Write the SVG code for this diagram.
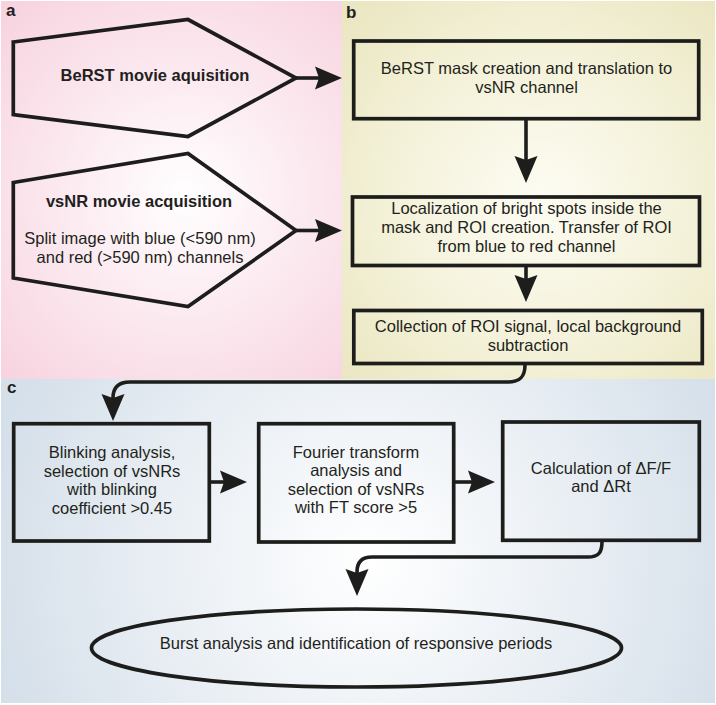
<svg xmlns="http://www.w3.org/2000/svg" width="716" height="705" viewBox="0 0 716 705">
<defs>
<radialGradient id="gA" gradientUnits="userSpaceOnUse" cx="185" cy="195" r="260">
<stop offset="0" stop-color="#ffffff"/>
<stop offset="0.55" stop-color="#fbe6ee"/>
<stop offset="1" stop-color="#f7d3df"/>
</radialGradient>
<radialGradient id="gB" gradientUnits="userSpaceOnUse" cx="540" cy="200" r="260">
<stop offset="0" stop-color="#fdfcf3"/>
<stop offset="0.55" stop-color="#f4f2da"/>
<stop offset="1" stop-color="#ebe7c3"/>
</radialGradient>
<radialGradient id="gC" gradientUnits="userSpaceOnUse" cx="370" cy="560" r="380">
<stop offset="0" stop-color="#ffffff"/>
<stop offset="0.5" stop-color="#ebf0f5"/>
<stop offset="1" stop-color="#d6e0ea"/>
</radialGradient>
<marker id="ah" markerUnits="userSpaceOnUse" markerWidth="28" markerHeight="24" refX="7" refY="12" orient="auto" overflow="visible">
<path d="M0,0.5 L27,12 L0,23.5 L4,12 Z" fill="#1d1d1b"/>
</marker>
</defs>
<style>
.shape{fill:none;stroke:#1d1d1b;stroke-width:3.7;stroke-linejoin:miter}
.conn{fill:none;stroke:#1d1d1b;stroke-width:3.6;marker-end:url(#ah)}
text{font-family:"Liberation Sans",Arial,sans-serif;font-size:16.5px;fill:#231f20;text-anchor:middle}
.b{font-weight:bold}
.lbl{font-weight:bold;font-size:17px;text-anchor:start}
</style>
<rect x="0" y="0" width="716" height="705" fill="#ffffff"/>
<g id="panels">
<rect x="1" y="1" width="341" height="378" fill="url(#gA)"/>
<rect x="342" y="1" width="373" height="378" fill="url(#gB)"/>
<rect x="1" y="379" width="714" height="324" fill="url(#gC)"/>
<text class="lbl" x="6" y="16">a</text>
<text class="lbl" x="346" y="18">b</text>
<text class="lbl" x="7" y="393">c</text>
</g>
<g id="connectors">
<path class="conn" d="M296,78 L322,78"/>
<path class="conn" d="M296,230.5 L322,230.5"/>
<path class="conn" d="M526,120 L526,163"/>
<path class="conn" d="M526,267 L526,282"/>
<path class="conn" d="M525,365 C525,377 520,382 508,382 L130,382 C118,382 113,388 113,398 L113,401"/>
<path class="conn" d="M211,482 L227,482"/>
<path class="conn" d="M455,482 L475,482"/>
<path class="conn" d="M602,542 C602,553 598,557 588,557 L372,557 C362,557 357,562 357,572 L357,576"/>
</g>
<g id="n-berst-acq">
<polygon class="shape" points="13.3,42 188,19.5 296,78 188,136.5 13.3,114.5"/>
<text class="b" x="155" y="81">BeRST movie aquisition</text>
</g>
<g id="n-vsnr-acq">
<polygon class="shape" points="13.3,182.5 188,153.5 296,230.5 188,306.5 13.3,278"/>
<text class="b" x="139" y="207">vsNR movie acquisition</text>
<text x="140" y="244">Split image with blue (&lt;590 nm)</text>
<text x="140" y="263">and red (&gt;590 nm) channels</text>
</g>
<g id="n-mask">
<rect class="shape" x="353.7" y="41" width="345" height="77.7"/>
<text x="526.5" y="73.5">BeRST mask creation and translation to</text>
<text x="526.5" y="92.5">vsNR channel</text>
</g>
<g id="n-localization">
<rect class="shape" x="352.5" y="197" width="347" height="68.5"/>
<text x="526.5" y="214">Localization of bright spots inside the</text>
<text x="526.5" y="233">mask and ROI creation. Transfer of ROI</text>
<text x="526.5" y="252">from blue to red channel</text>
</g>
<g id="n-collection">
<rect class="shape" x="353.8" y="310.5" width="348.5" height="53"/>
<text x="528" y="331.5">Collection of ROI signal, local background</text>
<text x="528" y="350.5">subtraction</text>
</g>
<g id="n-blinking">
<rect class="shape" x="13.7" y="423.7" width="195.6" height="117.3"/>
<text x="112" y="458.3">Blinking analysis,</text>
<text x="112" y="476.8">selection of vsNRs</text>
<text x="112" y="495.3">with blinking</text>
<text x="112" y="513.8">coefficient &gt;0.45</text>
</g>
<g id="n-fourier">
<rect class="shape" x="258.7" y="423.7" width="195" height="118.3"/>
<text x="356" y="457.5">Fourier transform</text>
<text x="356" y="476">analysis and</text>
<text x="356" y="494.5">selection of vsNRs</text>
<text x="356" y="513">with FT score &gt;5</text>
</g>
<g id="n-calc">
<rect class="shape" x="502.7" y="422" width="196.6" height="118.3"/>
<text x="601" y="474">Calculation of ΔF/F</text>
<text x="601" y="492">and ΔRt</text>
</g>
<g id="n-burst">
<ellipse class="shape" cx="356.5" cy="648" rx="265" ry="39"/>
<text x="356" y="648.5">Burst analysis and identification of responsive periods</text>
</g>
</svg>
